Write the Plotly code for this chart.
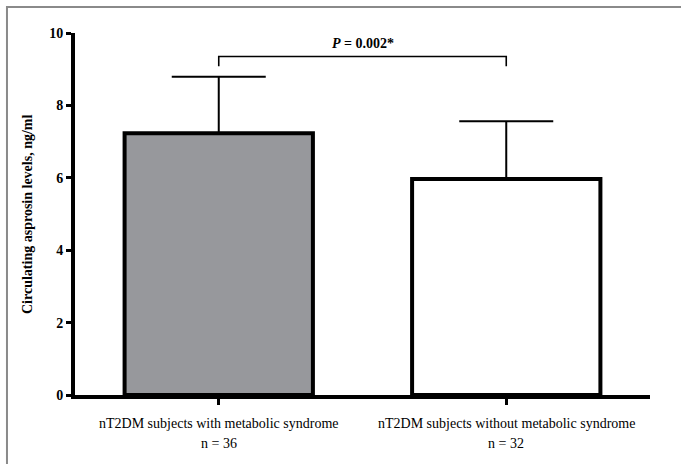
import plotly.graph_objects as go

categories = ["nT2DM subjects with metabolic syndrome", "nT2DM subjects without metabolic syndrome"]
group_n = ["n = 36", "n = 32"]
means = [7.23, 5.97]
sds = [1.56, 1.59]
bar_colors = ["#97989c", "#ffffff"]
y_ticks = [0, 2, 4, 6, 8, 10]
bracket_low = 9.08
bracket_high = 9.35
p_label_y = 9.72

FONT = "Liberation Serif, Times New Roman, serif"
xpos = list(range(len(categories)))

fig = go.Figure()
fig.add_trace(go.Bar(
    x=xpos, y=means, width=0.655,
    marker=dict(color=bar_colors, line=dict(color="black", width=4)),
    error_y=dict(type="data", array=sds, arrayminus=[0, 0], symmetric=False,
                 color="black", thickness=2, width=47),
    showlegend=False, hoverinfo="skip",
))
fig.add_trace(go.Scatter(
    x=[xpos[0], xpos[0], xpos[1], xpos[1]],
    y=[bracket_low, bracket_high, bracket_high, bracket_low],
    mode="lines", line=dict(color="black", width=1.6),
    showlegend=False, hoverinfo="skip", cliponaxis=False,
))

fig.add_annotation(x=0.5, y=p_label_y, xref="x", yref="y",
                   text="<b><i>P</i> = 0.002*</b>", showarrow=False,
                   font=dict(family=FONT, size=14, color="black"))

fig.add_annotation(x=0, y=0.5, xref="paper", yref="paper", xshift=-48,
                   xanchor="center", yanchor="middle",
                   text="<b>Circulating asprosin levels, ng/ml</b>", textangle=-90,
                   showarrow=False, font=dict(family=FONT, size=14, color="black"))

for xi, cat, n in zip(xpos, categories, group_n):
    fig.add_annotation(x=xi, y=0, xref="x", yref="paper", yshift=-28,
                       xanchor="center", yanchor="middle", text=cat, showarrow=False,
                       font=dict(family=FONT, size=14, color="black"))
    fig.add_annotation(x=xi, y=0, xref="x", yref="paper", yshift=-48,
                       xanchor="center", yanchor="middle", text=n, showarrow=False,
                       font=dict(family=FONT, size=14, color="black"))

# outer border frame
fig.add_shape(type="rect", xref="paper", yref="paper",
              x0=-0.1183, x1=1.1, y0=-0.25, y1=1.0718,
              line=dict(color="#8a8a8a", width=2), layer="below")

fig.update_layout(
    width=681, height=464,
    margin=dict(l=75, r=31, t=33, b=69),
    paper_bgcolor="white", plot_bgcolor="white",
    xaxis=dict(range=[-0.5, 1.5], tickvals=xpos, showticklabels=False,
               showline=True, linecolor="black", linewidth=4,
               ticks="outside", ticklen=6, tickwidth=3, tickcolor="black",
               showgrid=False, zeroline=False),
    yaxis=dict(range=[0, 10], tickvals=y_ticks,
               ticktext=[f"<b>{t}</b>" for t in y_ticks],
               showline=True, linecolor="black", linewidth=4,
               ticks="outside", ticklen=5, tickwidth=3, tickcolor="black",
               showgrid=False, zeroline=False,
               tickfont=dict(family=FONT, size=14, color="black")),
)

fig.write_html("out.html", config={"displayModeBar": False},
               post_script="document.body.style.margin='0';")
